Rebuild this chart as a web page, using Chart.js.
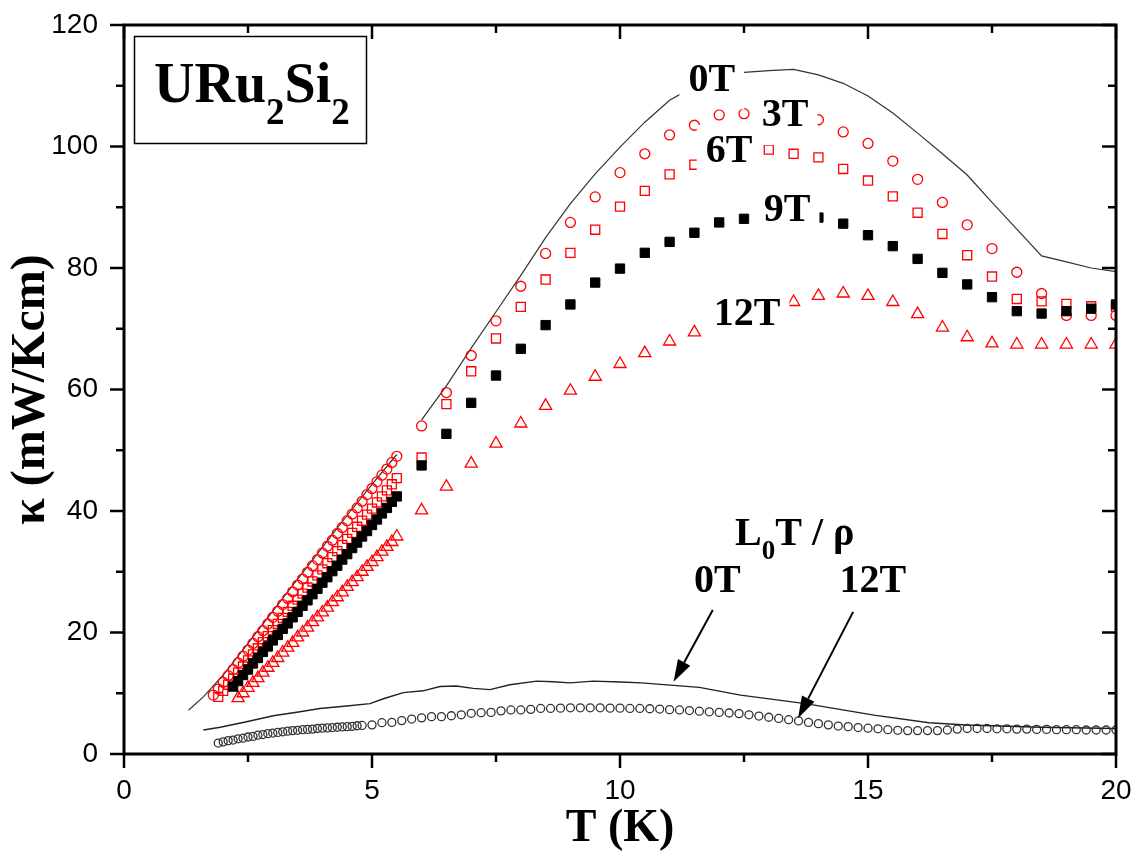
<!DOCTYPE html>
<html>
<head>
<meta charset="utf-8">
<script src="https://cdn.jsdelivr.net/npm/chart.js@4.4.1/dist/chart.umd.min.js"></script>
<style>
  html, body { margin: 0; padding: 0; background: #fff; }
</style>
</head>
<body>
<canvas id="chart" width="1135" height="852"></canvas>
<script>
// Axis ticks
const xMajor = [0, 5, 10, 15, 20]
const xMinor = [2.5, 7.5, 12.5, 17.5]
const yMajor = [0, 20, 40, 60, 80, 100, 120]
const yMinor = [10, 30, 50, 70, 90, 110]

// Low temperature runs (dense)
const tLow3 = [1.8,1.9,2.0,2.1,2.2,2.3,2.4,2.5,2.6,2.7,2.8,2.9,3.0,3.1,3.2,3.3,3.4,3.5,3.6,3.7,3.8,3.9,4.0,4.1,4.2,4.3,4.4,4.5,4.6,4.7,4.8,4.9,5.0,5.1,5.2,5.3,5.4,5.5]
const k3Low = [9.7,10.7,11.8,12.9,13.9,15.0,16.1,17.1,18.2,19.3,20.3,21.4,22.5,23.5,24.6,25.6,26.7,27.8,28.8,29.9,31.0,32.0,33.1,34.2,35.2,36.3,37.3,38.4,39.5,40.5,41.6,42.7,43.7,44.8,45.9,46.9,48.0,49.0]
const tLow6 = [1.9,2.0,2.1,2.2,2.3,2.4,2.5,2.6,2.7,2.8,2.9,3.0,3.1,3.2,3.3,3.4,3.5,3.6,3.7,3.8,3.9,4.0,4.1,4.2,4.3,4.4,4.5,4.6,4.7,4.8,4.9,5.0,5.1,5.2,5.3,5.4,5.5]
const k6Low = [9.4,10.4,11.4,12.4,13.4,14.4,15.4,16.4,17.4,18.4,19.4,20.4,21.4,22.4,23.4,24.4,25.4,26.4,27.4,28.4,29.4,30.4,31.4,32.4,33.4,34.4,35.4,36.4,37.4,38.4,39.4,40.4,41.4,42.4,43.4,44.4,45.4]
const tLow9 = [2.2,2.3,2.4,2.5,2.6,2.7,2.8,2.9,3.0,3.1,3.2,3.3,3.4,3.5,3.6,3.7,3.8,3.9,4.0,4.1,4.2,4.3,4.4,4.5,4.6,4.7,4.8,4.9,5.0,5.1,5.2,5.3,5.4,5.5]
const k9Low = [11.1,12.0,13.0,13.9,14.9,15.8,16.8,17.7,18.7,19.6,20.6,21.5,22.5,23.4,24.4,25.3,26.3,27.2,28.2,29.1,30.1,31.0,32.0,32.9,33.9,34.8,35.8,36.7,37.7,38.6,39.6,40.5,41.5,42.4]
const tLow12 = [2.3,2.4,2.5,2.6,2.7,2.8,2.9,3.0,3.1,3.2,3.3,3.4,3.5,3.6,3.7,3.8,3.9,4.0,4.1,4.2,4.3,4.4,4.5,4.6,4.7,4.8,4.9,5.0,5.1,5.2,5.3,5.4,5.5]
const k12Low = [9.2,10.0,10.9,11.7,12.5,13.4,14.2,15.0,15.8,16.7,17.5,18.3,19.2,20.0,20.8,21.7,22.5,23.3,24.1,25.0,25.8,26.6,27.5,28.3,29.1,30.0,30.8,31.6,32.4,33.3,34.1,34.9,35.8]

// High temperature runs (every 0.5 K)
const tHigh = [6.0,6.5,7.0,7.5,8.0,8.5,9.0,9.5,10.0,10.5,11.0,11.5,12.0,12.5,13.0,13.5,14.0,14.5,15.0,15.5,16.0,16.5,17.0,17.5,18.0,18.5,19.0,19.5,20.0]
const k3High = [54.0,59.5,65.6,71.3,77.0,82.4,87.5,91.7,95.7,98.8,101.9,103.5,105.2,105.4,105.5,105.0,104.4,102.4,100.5,97.6,94.6,90.8,87.1,83.2,79.3,75.8,72.2,72.2,72.2]
const k6High = [48.8,57.6,63.0,68.4,73.6,78.1,82.5,86.3,90.1,92.7,95.4,97.0,98.0,99.0,99.5,98.8,98.2,96.3,94.4,91.8,89.1,85.6,82.1,78.6,74.9,74.5,74.1,73.7,73.6]
const k9High = [47.5,52.7,57.8,62.3,66.7,70.6,74.0,77.6,79.9,82.5,84.3,85.8,87.5,88.1,88.4,88.5,88.3,87.3,85.4,83.6,81.5,79.2,77.3,75.2,72.9,72.5,72.9,73.3,74.0]
const k12High = [40.1,44.0,47.8,51.1,54.4,57.3,59.8,62.1,64.2,66.0,67.9,69.4,71.0,72.5,73.6,74.4,75.4,75.8,75.4,74.4,72.4,70.2,68.6,67.6,67.4,67.4,67.4,67.4,67.4]

// 0T kappa curve (gap between the two runs)
const tLine0 = [1.3,1.6,1.8,2.0,2.5,3.0,3.5,4.0,4.5,5.0,5.5,5.75,6.0,6.5,7.0,7.5,8.0,8.5,9.0,9.5,10.0,10.5,11.0,11.5,12.0,12.5,13.0,13.5,14.0,14.5,15.0,15.5,16.0,16.5,17.0,17.5,18.0,18.5,19.0,19.5,20.0]
const kLine0 = [7.2,9.4,11.2,13.0,18.2,23.5,28.8,34.0,39.3,44.4,49.3,null,55.0,60.6,66.8,72.8,78.8,85.0,90.6,95.5,99.9,104.0,107.6,109.9,111.5,112.2,112.5,112.7,111.8,110.4,108.3,105.5,102.2,98.8,95.3,90.8,86.4,82.0,81.0,80.0,79.4]

// L0 T / rho, 0T curve
const tWf0 = [1.6,1.94,2.47,3.01,3.55,3.95,4.49,4.96,5.23,5.63,6.03,6.37,6.7,7.04,7.38,7.78,8.32,8.65,8.99,9.46,10.0,10.43,11.6,12.43,13.74,15.12,16.23,16.98,18.5,20.0]
const kWf0 = [3.95,4.4,5.3,6.3,6.96,7.5,7.9,8.3,9.1,10.1,10.4,11.1,11.2,10.8,10.6,11.4,12.0,11.9,11.7,12.0,11.85,11.7,10.97,9.7,8.3,6.4,5.15,4.77,4.4,4.2]

// L0 T / rho, 12T points
const tWf12 = [1.9,2.0,2.1,2.2,2.3,2.4,2.5,2.6,2.7,2.8,2.9,3.0,3.1,3.2,3.3,3.4,3.5,3.6,3.7,3.8,3.9,4.0,4.1,4.2,4.3,4.4,4.5,4.6,4.7,4.8,
  5.0,5.2,5.4,5.6,5.8,6.0,6.2,6.4,6.6,6.8,7.0,7.2,7.4,7.6,7.8,8.0,8.2,8.4,8.6,8.8,9.0,9.2,9.4,9.6,9.8,10.0,10.2,10.4,10.6,10.8,
  11.0,11.2,11.4,11.6,11.8,12.0,12.2,12.4,12.6,12.8,13.0,13.2,13.4,13.6,13.8,14.0,14.2,14.4,14.6,14.8,15.0,15.2,15.4,15.6,15.8,
  16.0,16.2,16.4,16.6,16.8,17.0,17.2,17.4,17.6,17.8,18.0,18.2,18.4,18.6,18.8,19.0,19.2,19.4,19.6,19.8,20.0]
const kWf12 = [1.8,2.0,2.2,2.3,2.5,2.6,2.8,2.9,3.1,3.2,3.35,3.45,3.55,3.65,3.75,3.85,3.9,4.0,4.05,4.1,4.2,4.25,4.3,4.35,4.4,4.45,4.5,4.55,4.65,4.7,
  4.8,5.15,5.2,5.5,5.75,5.95,6.15,6.15,6.3,6.45,6.7,6.8,6.85,7.1,7.25,7.25,7.35,7.5,7.5,7.55,7.6,7.6,7.6,7.6,7.55,7.55,7.5,7.5,7.45,7.4,
  7.3,7.25,7.15,7.05,6.95,6.85,6.75,6.65,6.45,6.25,6.05,5.85,5.65,5.45,5.2,5.0,4.8,4.6,4.5,4.35,4.25,4.15,4.0,3.9,3.85,
  3.85,3.85,3.85,3.95,4.1,4.2,4.2,4.2,4.15,4.15,4.1,4.1,4.05,4.05,4.0,4.0,4.0,3.95,3.95,3.95,3.95]

// Field labels placed in data coordinates [text, T, kappa]
const fieldLabels = [["0T", 11.85, 110.9], ["3T", 13.33, 105.0], ["6T", 12.2, 99.1], ["9T", 13.37, 89.4], ["12T", 12.56, 72.3]]

const RED = "#ff0000"
const SERIF = "'Liberation Serif', 'Times New Roman', serif"

function pts(ts, ks) {
  return ts.map((t, i) => ({ x: t, y: ks[i] }))
}

function labelWithBox(ctx, text, cx, cy) {
  ctx.font = "bold 40px " + SERIF
  const w = ctx.measureText(text).width
  ctx.fillStyle = "#fff"
  ctx.fillRect(cx - w / 2 - 9, cy - 27, w + 18, 56)
  ctx.fillStyle = "#000"
  ctx.textAlign = "center"
  ctx.textBaseline = "middle"
  ctx.fillText(text, cx, cy)
}

function arrow(ctx, x1, y1, x2, y2) {
  const a = Math.atan2(y2 - y1, x2 - x1)
  const len = 22
  const half = 7
  const bx = x2 - len * Math.cos(a)
  const by = y2 - len * Math.sin(a)
  ctx.strokeStyle = "#000"
  ctx.lineWidth = 2
  ctx.beginPath()
  ctx.moveTo(x1, y1)
  ctx.lineTo(bx, by)
  ctx.stroke()
  ctx.fillStyle = "#000"
  ctx.beginPath()
  ctx.moveTo(x2, y2)
  ctx.lineTo(bx + half * Math.sin(a), by - half * Math.cos(a))
  ctx.lineTo(bx - half * Math.sin(a), by + half * Math.cos(a))
  ctx.closePath()
  ctx.fill()
}

// Draws text pieces one after another, [text, size, baselineShift]
function runText(ctx, x, y, parts) {
  ctx.textAlign = "left"
  ctx.textBaseline = "alphabetic"
  ctx.fillStyle = "#000"
  parts.forEach(([txt, size, dy]) => {
    ctx.font = "bold " + size + "px " + SERIF
    ctx.fillText(txt, x, y + dy)
    x += ctx.measureText(txt).width
  })
}

const annotations = {
  id: "annotations",
  afterDatasetsDraw(chart) {
    const ctx = chart.ctx
    const xs = chart.scales.x
    const ys = chart.scales.y
    ctx.save()

    fieldLabels.forEach(([text, t, k]) => {
      labelWithBox(ctx, text, xs.getPixelForValue(t), ys.getPixelForValue(k))
    })

    // L0T/rho label and arrows
    const lx = xs.getPixelForValue(12.32)
    const ly = ys.getPixelForValue(34.4)
    runText(ctx, lx, ly, [["L", 40, 0], ["0", 27, 14], ["T / ρ", 40, 0]])
    ctx.font = "bold 40px " + SERIF
    ctx.textAlign = "center"
    ctx.textBaseline = "middle"
    ctx.fillText("0T", xs.getPixelForValue(11.96), ys.getPixelForValue(28.3))
    ctx.fillText("12T", xs.getPixelForValue(15.1), ys.getPixelForValue(28.3))
    arrow(ctx, xs.getPixelForValue(11.87), ys.getPixelForValue(23.7), xs.getPixelForValue(11.08), ys.getPixelForValue(11.9))
    arrow(ctx, xs.getPixelForValue(14.7), ys.getPixelForValue(23.4), xs.getPixelForValue(13.59), ys.getPixelForValue(5.9))

    // compound box
    ctx.fillStyle = "#fff"
    ctx.fillRect(134, 36, 233, 107)
    ctx.strokeStyle = "#000"
    ctx.lineWidth = 1.5
    ctx.strokeRect(134.5, 36.5, 232, 107)
    runText(ctx, 154, 102, [["URu", 56, 0], ["2", 37, 22], ["Si", 56, 0], ["2", 37, 22]])
    ctx.restore()
  },
  afterDraw(chart) {
    const ctx = chart.ctx
    const { left, right, top, bottom } = chart.chartArea
    const xs = chart.scales.x
    const ys = chart.scales.y
    ctx.save()
    ctx.strokeStyle = "#000"
    ctx.lineWidth = 3
    ctx.strokeRect(left, top, right - left, bottom - top)
    ctx.lineWidth = 2.5
    ctx.beginPath()
    const xTick = (v, len) => {
      const p = xs.getPixelForValue(v)
      ctx.moveTo(p, bottom); ctx.lineTo(p, bottom + len)
      ctx.moveTo(p, top); ctx.lineTo(p, top + len)
    }
    const yTick = (v, len) => {
      const p = ys.getPixelForValue(v)
      ctx.moveTo(left, p); ctx.lineTo(left - len, p)
      ctx.moveTo(right, p); ctx.lineTo(right - len, p)
    }
    xMajor.forEach((v) => xTick(v, 14))
    xMinor.forEach((v) => xTick(v, 8))
    yMajor.forEach((v) => yTick(v, 14))
    yMinor.forEach((v) => yTick(v, 8))
    ctx.stroke()
    ctx.restore()
  },
}

const openMarker = (style, radius, color) => ({
  showLine: false,
  pointStyle: style,
  pointRadius: radius,
  pointBorderColor: color,
  pointBackgroundColor: "rgba(0,0,0,0)",
  pointBorderWidth: 1.3,
  clip: 0,
})

// fixed axis box sizes, and no extra room for edge labels
function fixBox(s, size) {
  if (s.isHorizontal()) s.height = size
  else s.width = size
  s.paddingTop = 0
  s.paddingBottom = 0
  s.paddingLeft = 0
  s.paddingRight = 0
}

new Chart(document.getElementById("chart"), {
  type: "scatter",
  data: {
    datasets: [
      {
        label: "9T",
        data: pts(tLow9, k9Low).concat(pts(tHigh, k9High)),
        showLine: false,
        pointStyle: "rect",
        pointRadius: 6.6,
        pointBorderColor: "#000",
        pointBackgroundColor: "#000",
        pointBorderWidth: 1,
        clip: 0,
      },
      { label: "6T", data: pts(tLow6, k6Low).concat(pts(tHigh, k6High)), ...openMarker("rect", 6.4, RED) },
      { label: "3T", data: pts(tLow3, k3Low).concat(pts(tHigh, k3High)), ...openMarker("circle", 5, RED) },
      { label: "12T", data: pts(tLow12, k12Low).concat(pts(tHigh, k12High)), ...openMarker("triangle", 7, RED) },
      {
        label: "0T",
        data: pts(tLine0, kLine0),
        showLine: true,
        spanGaps: false,
        pointRadius: 0,
        borderColor: "#333",
        borderWidth: 1.2,
        clip: 0,
      },
      {
        label: "L0T/rho 0T",
        data: pts(tWf0, kWf0),
        showLine: true,
        pointRadius: 0,
        borderColor: "#222",
        borderWidth: 1.4,
        clip: 0,
      },
      { label: "L0T/rho 12T", data: pts(tWf12, kWf12), ...openMarker("circle", 4, "#333") },
    ],
  },
  options: {
    responsive: false,
    animation: false,
    events: [],
    layout: { padding: { top: 25, right: 19, left: 0, bottom: 0 } },
    plugins: { legend: { display: false }, tooltip: { enabled: false } },
    scales: {
      x: {
        type: "linear",
        min: 0,
        max: 20,
        afterBuildTicks: (s) => { s.ticks = xMajor.map((v) => ({ value: v })) },
        afterFit: (s) => fixBox(s, 98),
        grid: { drawOnChartArea: false, drawTicks: false },
        border: { display: false },
        ticks: {
          autoSkip: false,
          maxRotation: 0,
          padding: 20,
          color: "#000",
          font: { family: "'Liberation Sans', Arial, sans-serif", size: 28 },
        },
        title: {
          display: true,
          text: "T (K)",
          color: "#000",
          padding: { top: 0, bottom: 0 },
          font: { family: SERIF, size: 46, weight: "bold", lineHeight: 1.0 },
        },
      },
      y: {
        type: "linear",
        min: 0,
        max: 120,
        afterBuildTicks: (s) => { s.ticks = yMajor.map((v) => ({ value: v })) },
        afterFit: (s) => fixBox(s, 124),
        grid: { drawOnChartArea: false, drawTicks: false },
        border: { display: false },
        ticks: {
          autoSkip: false,
          padding: 26,
          color: "#000",
          font: { family: "'Liberation Sans', Arial, sans-serif", size: 28 },
        },
        title: {
          display: true,
          text: "κ (mW/Kcm)",
          color: "#000",
          padding: { top: 8, bottom: 0 },
          font: { family: SERIF, size: 48, weight: "bold", lineHeight: 1.0 },
        },
      },
    },
  },
  plugins: [annotations],
})
</script>
</body>
</html>
